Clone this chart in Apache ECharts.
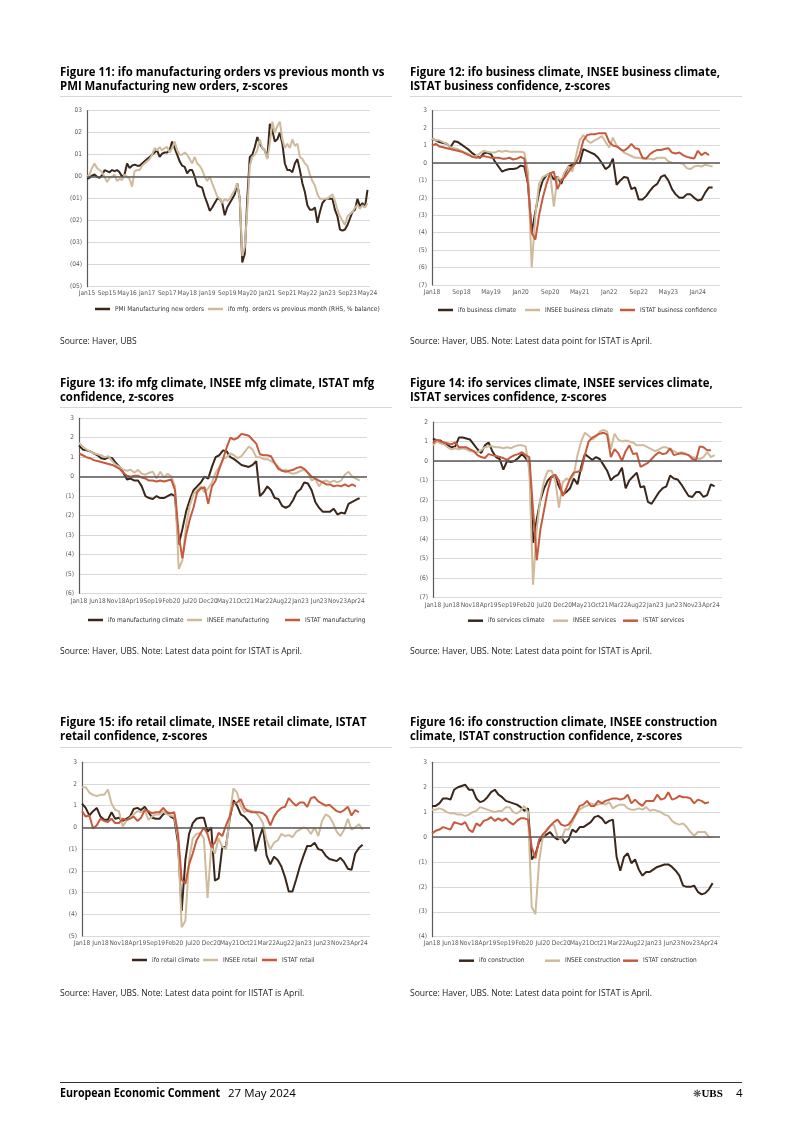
<!DOCTYPE html>
<html><head><meta charset="utf-8">
<script src="https://cdn.jsdelivr.net/npm/echarts/dist/echarts.min.js"></script>
<style>
body{margin:0;background:#fff;width:802px;height:1134px;position:relative;overflow:hidden;font-family:'Open Sans',sans-serif;color:#000;}
#chart{position:absolute;left:0;top:0;width:802px;height:1134px;}
.t{position:absolute;white-space:nowrap;transform-origin:0 50%;}
.title{font-weight:700;font-size:12.8px;line-height:15px;}
.src{font-size:9px;line-height:11px;color:#222;}
.rule{position:absolute;height:1px;background:#d6d6d6;}
.foot{font-size:11.5px;line-height:14px;}
</style></head><body>
<div id="chart"></div>

<div class="t title" id="t11a" style="left:60px;top:63.5px">Figure 11: ifo manufacturing orders vs previous month vs</div>
<div class="t title" style="left:60px;top:78px">PMI Manufacturing new orders, z-scores</div>
<div class="rule" style="left:60px;top:96px;width:332px"></div>
<div class="t title" style="left:410px;top:63.5px">Figure 12: ifo business climate, INSEE business climate,</div>
<div class="t title" style="left:410px;top:78px">ISTAT business confidence, z-scores</div>
<div class="rule" style="left:410px;top:96px;width:332px"></div>

<div class="t title" style="left:60px;top:374.5px">Figure 13: ifo mfg climate, INSEE mfg climate, ISTAT mfg</div>
<div class="t title" style="left:60px;top:389px">confidence, z-scores</div>
<div class="rule" style="left:60px;top:407px;width:332px"></div>
<div class="t title" style="left:410px;top:374.5px">Figure 14: ifo services climate, INSEE services climate,</div>
<div class="t title" style="left:410px;top:389px">ISTAT services confidence, z-scores</div>
<div class="rule" style="left:410px;top:407px;width:332px"></div>

<div class="t title" style="left:60px;top:713.5px">Figure 15: ifo retail climate, INSEE retail climate, ISTAT</div>
<div class="t title" style="left:60px;top:728px">retail confidence, z-scores</div>
<div class="rule" style="left:60px;top:747px;width:332px"></div>
<div class="t title" style="left:410px;top:713.5px">Figure 16: ifo construction climate, INSEE construction</div>
<div class="t title" style="left:410px;top:728px">climate, ISTAT construction confidence, z-scores</div>
<div class="rule" style="left:410px;top:747px;width:332px"></div>

<div class="t src" style="left:60px;top:334.5px">Source: Haver, UBS</div>
<div class="t src" id="s12" style="left:410px;top:334.5px">Source: Haver, UBS. Note: Latest data point for ISTAT is April.</div>
<div class="t src" style="left:60px;top:644.5px">Source: Haver, UBS. Note: Latest data point for ISTAT is April.</div>
<div class="t src" style="left:410px;top:644.5px">Source: Haver, UBS. Note: Latest data point for ISTAT is April.</div>
<div class="t src" style="left:60px;top:986.5px">Source: Haver, UBS. Note: Latest data point for IISTAT is April.</div>
<div class="t src" style="left:410px;top:986.5px">Source: Haver, UBS. Note: Latest data point for ISTAT is April.</div>

<div class="rule" style="left:60px;top:1082px;width:682px;background:#333"></div>
<div class="t foot" id="f1" style="left:60px;top:1086px;font-weight:700">European Economic Comment</div>
<div class="t foot" id="f2" style="left:228px;top:1086px">27 May 2024</div>
<div class="t foot" style="left:693px;top:1086px;font-family:'Liberation Serif',serif;font-weight:700;font-size:11px"><span style="font-family:'DejaVu Sans';font-weight:400;font-size:10px;color:#333">❋</span>UBS</div>
<div class="t foot" style="left:736px;top:1086px">4</div>

<script>
// ---------- categories ----------
const MON = ['Jan','Feb','Mar','Apr','May','Jun','Jul','Aug','Sep','Oct','Nov','Dec'];
function monthCats(y0, count){const a=[];for(let i=0;i<count;i++){a.push(MON[i%12]+String((y0+Math.floor(i/12))%100).padStart(2,'0'));}return a;}
const cats15 = monthCats(2015, 114); // Jan15 .. Jun24
const cats18 = monthCats(2018, 79);  // Jan18 .. Jul24

// ---------- Figure 11 (Jan15..May24) ----------
const pmi11 = [-0.1,-0.05,0.05,0.1,0.0,-0.05,0.05,0.3,0.25,0.2,
 0.3,0.25,0.3,0.2,0.0,0.1,
 0.6,0.4,0.5,0.55,0.5,0.5,0.6,0.7,0.8,0.9,
 1.0,1.1,1.2,0.9,1.05,1.1,1.1,1.2,1.6,1.3,
 1.0,0.7,0.5,0.45,0.15,0.3,0.3,0.0,-0.4,-0.45,
 -0.5,-0.9,-1.2,-1.55,-1.4,-1.2,-1.0,-1.0,-1.2,-1.75,
 -1.4,-1.2,-1.0,-0.8,-0.3,-1.0,-3.9,-3.5,-1.0,0.9,
 1.0,1.35,1.8,1.5,1.3,1.2,0.85,2.4,2.1,1.6,
 1.7,2.0,1.5,0.6,0.3,0.3,0.2,0.6,0.8,0.3,
 -0.3,-0.7,-1.3,-1.5,-1.5,-1.4,-2.1,-1.6,-1.2,-1.05,
 -1.0,-1.0,-1.0,-1.5,-1.8,-2.4,-2.45,-2.4,-2.2,-1.9,
 -1.6,-1.5,-1.0,-1.35,-1.2,-1.4,-0.6];
const ifo11 = [0.0,0.1,0.4,0.6,0.4,0.3,0.2,0.0,-0.25,-0.05,
 0.0,0.1,-0.2,-0.1,-0.15,0.1,0.0,-0.1,-0.45,0.25,
 0.3,0.3,0.5,0.6,0.7,0.8,1.0,1.3,1.2,1.35,
 1.2,1.3,1.35,1.1,1.3,1.6,1.2,1.0,1.0,1.1,
 1.0,0.8,0.6,0.9,0.6,0.5,0.3,0.0,-0.2,0.0,
 -0.3,-0.6,-0.9,-1.0,-1.2,-1.0,-1.1,-1.0,-0.8,-0.6,
 -0.3,-1.0,-3.6,-3.2,-1.5,0.5,0.9,1.0,1.2,1.7,
 1.3,1.2,0.8,1.5,2.5,2.0,2.3,2.5,1.7,1.3,
 1.5,1.3,1.7,1.4,1.5,0.9,0.8,0.6,0.5,0.1,
 -0.2,-0.4,-0.8,-1.0,-1.0,-1.0,-1.0,-0.9,-0.8,-1.1,
 -1.5,-1.8,-2.0,-2.2,-1.8,-1.7,-1.6,-1.4,-1.3,-1.45,
 -1.3,-1.4,-1.2];

// ---------- Figure 12 (Jan18..) ----------
const ifo12 = [1.4,1.3,1.2,1.15,1.1,0.9,1.25,1.2,1.05,0.9,
 0.75,0.55,0.4,0.3,0.55,0.6,0.5,0.1,-0.2,-0.5,
 -0.4,-0.35,-0.35,-0.3,-0.15,-0.2,-1.2,-4.0,-2.8,-1.7,
 -1.0,-0.7,-0.6,-0.95,-0.8,-1.2,-0.6,-0.2,-0.1,0.0,
 0.0,0.8,0.7,0.6,0.5,0.3,0.0,-0.35,-0.2,0.25,
 -1.25,-1.0,-0.8,-0.85,-1.5,-1.4,-2.1,-2.1,-1.9,-1.6,
 -1.35,-1.2,-0.8,-0.7,-1.0,-1.5,-1.8,-2.0,-2.0,-1.8,
 -1.8,-2.0,-2.15,-2.1,-1.7,-1.4,-1.4];
const insee12 = [1.4,1.3,1.3,1.2,1.1,0.9,0.85,0.8,0.7,0.6,
 0.5,0.35,0.4,0.55,0.7,0.65,0.6,0.6,0.7,0.65,
 0.7,0.65,0.65,0.65,0.65,0.6,-0.5,-6.0,-3.0,-1.2,
 -0.8,-0.7,-0.6,-2.5,-0.8,-1.0,-0.5,-0.2,-0.5,0.4,
 1.3,1.6,1.3,1.15,1.3,1.4,1.55,1.2,0.9,1.45,
 1.0,0.8,0.6,0.5,0.4,0.3,0.3,0.25,0.25,0.25,
 0.2,0.3,0.3,0.3,0.1,0.0,0.0,0.0,-0.05,-0.3,
 -0.35,-0.2,-0.15,-0.2,-0.1,-0.15,-0.2];
const istat12 = [1.0,1.1,0.95,0.9,0.85,0.8,0.75,0.7,0.65,0.55,
 0.45,0.35,0.3,0.35,0.4,0.35,0.3,0.3,0.3,0.25,
 0.25,0.3,0.2,0.25,0.35,0.25,-1.2,-4.0,-4.4,-3.0,
 -2.0,-1.2,-0.6,-0.5,-1.5,-1.0,-0.8,-0.5,-0.2,0.0,
 0.5,1.3,1.6,1.65,1.65,1.7,1.7,1.7,1.2,1.0,
 0.95,0.8,0.7,0.85,1.1,0.85,0.8,0.3,0.25,0.5,
 0.65,0.75,0.75,0.8,0.85,0.6,0.55,0.6,0.45,0.35,
 0.3,0.25,0.7,0.45,0.6,0.45];

// ---------- Figure 13 ----------
const ifo13 = [1.6,1.4,1.35,1.3,1.2,1.1,0.95,0.9,1.0,0.95,
 0.7,0.5,0.2,-0.15,-0.1,-0.2,-0.2,-0.5,-1.0,-1.1,
 -1.15,-1.0,-1.1,-1.1,-1.0,-0.9,-1.0,-3.5,-2.7,-1.8,
 -1.2,-0.7,-0.5,-0.3,0.0,-0.1,0.5,1.0,1.1,1.35,
 1.3,1.0,0.9,0.75,0.6,0.55,0.5,0.6,0.8,-1.0,
 -0.8,-0.5,-0.7,-1.1,-1.15,-1.5,-1.6,-1.5,-1.2,-0.8,
 -0.65,-0.3,-0.35,-0.7,-1.3,-1.6,-1.8,-1.8,-1.8,-1.65,
 -1.95,-1.85,-1.9,-1.4,-1.3,-1.2,-1.1];
const insee13 = [1.75,1.55,1.4,1.3,1.2,1.15,1.1,1.0,1.05,0.8,
 0.6,0.5,0.35,0.3,0.35,0.2,0.35,0.15,0.1,0.2,
 0.25,-0.1,0.25,-0.05,0.15,0.0,-0.5,-4.75,-4.3,-2.5,
 -1.5,-0.9,-0.7,-0.5,-0.8,-0.6,-0.3,0.2,0.5,0.9,
 1.0,1.2,1.1,0.95,1.05,1.3,1.55,1.4,1.0,1.0,
 0.9,0.9,0.8,0.7,0.5,0.3,0.35,0.2,0.15,0.2,
 0.3,0.35,0.2,-0.2,-0.1,-0.5,-0.25,-0.2,-0.3,-0.2,
 -0.3,-0.2,0.1,0.25,0.0,-0.1,-0.2];
const istat13 = [1.2,1.1,1.0,0.95,0.85,0.8,0.75,0.7,0.65,0.6,
 0.5,0.4,0.2,0.05,0.0,0.05,0.05,-0.05,-0.1,-0.2,
 -0.2,-0.25,-0.2,-0.25,-0.2,-0.15,-0.7,-3.0,-4.2,-3.0,
 -2.2,-1.6,-0.8,-0.6,-0.55,-1.4,-0.5,-0.2,0.4,0.9,
 1.5,2.0,1.9,2.0,2.2,2.15,2.1,1.9,1.7,1.15,
 1.1,1.1,1.05,0.7,0.4,0.3,0.25,0.3,0.35,0.45,
 0.5,0.4,0.2,0.0,-0.1,-0.2,-0.3,-0.4,-0.4,-0.5,
 -0.45,-0.5,-0.4,-0.5,-0.4,-0.5];

// ---------- Figure 14 ----------
const ifo14 = [1.15,1.05,1.05,0.9,0.8,0.7,0.75,1.2,1.2,1.15,
 1.1,0.85,0.6,0.4,0.8,0.95,0.5,0.2,0.1,-0.45,
 0.0,-0.05,0.0,0.15,0.35,0.15,-0.1,-4.2,-3.0,-2.0,
 -1.4,-1.0,-0.8,-0.85,-1.3,-1.7,-1.6,-1.4,-0.9,-1.2,
 -0.3,0.35,0.2,0.05,0.2,0.1,-0.2,-0.5,-1.0,-0.8,
 -0.7,-0.35,-1.4,-1.0,-0.8,-0.6,-1.35,-1.3,-2.1,-2.2,
 -1.9,-1.6,-1.4,-1.3,-0.75,-0.9,-0.95,-1.2,-1.5,-1.8,
 -1.85,-1.6,-1.6,-1.85,-1.75,-1.2,-1.3];
const insee14 = [0.8,1.0,0.9,0.85,0.7,0.6,0.65,0.6,0.65,0.6,
 0.5,0.5,0.45,0.55,0.7,0.75,0.75,0.7,0.7,0.65,
 0.7,0.65,0.75,0.8,0.8,0.75,-0.5,-6.35,-3.5,-1.9,
 -1.0,-0.5,-0.5,-1.0,-2.4,-1.1,-0.9,-1.0,-0.7,0.3,
 1.0,1.45,1.3,1.1,1.25,1.5,1.6,1.5,0.6,1.4,
 1.1,1.0,1.05,1.0,0.95,0.8,0.8,0.8,0.7,0.6,
 0.5,0.6,0.7,0.7,0.6,0.5,0.4,0.45,0.4,0.3,
 0.2,0.15,0.1,0.2,0.45,0.2,0.3];
const istat14 = [0.9,1.1,1.0,0.95,0.9,0.85,0.95,0.7,0.7,0.7,
 0.6,0.5,0.3,0.2,0.15,0.35,0.3,0.25,0.2,0.15,
 0.05,0.2,0.3,0.35,0.45,0.3,0.2,-2.5,-5.1,-3.5,
 -2.5,-1.5,-0.8,-0.7,-1.0,-1.8,-1.4,-0.9,-0.6,-0.55,
 -0.5,0.3,1.0,1.2,1.3,1.4,1.45,1.35,0.2,0.6,
 0.4,0.0,0.5,0.8,0.35,0.4,-0.3,-0.2,-0.1,0.1,
 0.3,0.45,0.35,0.4,0.65,0.3,0.35,0.4,0.35,0.3,
 0.1,0.05,0.75,0.7,0.55,0.55];

// ---------- Figure 15 ----------
const ifo15 = [1.1,0.9,0.55,0.75,0.9,0.5,0.35,0.35,0.7,0.4,
 0.45,0.3,0.4,0.5,0.85,0.9,0.8,0.95,0.7,0.45,
 0.4,0.4,0.6,0.7,0.5,0.4,-0.7,-3.85,-1.5,-0.3,
 0.2,0.4,0.45,0.45,-0.2,0.0,-2.45,-2.35,-0.9,-0.9,
 0.4,1.25,1.0,0.6,0.5,0.3,0.1,-1.1,-0.5,0.0,
 -1.3,-1.7,-1.35,-1.5,-1.8,-2.3,-2.95,-2.95,-2.4,-1.8,
 -1.3,-0.85,-0.85,-0.7,-1.0,-1.05,-1.3,-1.45,-1.5,-1.55,
 -1.4,-1.6,-1.9,-1.95,-1.2,-0.95,-0.8];
const insee15 = [1.85,1.85,1.6,1.5,1.45,1.5,1.5,1.75,1.1,0.8,
 0.75,0.05,0.3,0.45,0.6,0.75,0.7,0.8,0.35,0.5,
 0.6,0.6,0.75,0.6,0.55,0.5,-0.5,-4.6,-4.3,-1.5,
 -0.5,-0.3,-0.25,-0.5,-3.25,-0.9,-1.2,-0.5,-0.9,-1.0,
 0.5,1.8,1.6,1.0,0.7,0.8,0.75,0.7,0.5,0.2,
 -0.6,-1.0,-0.7,-0.6,-0.3,-0.4,-0.35,-0.45,-0.2,-0.1,
 0.0,-0.05,-0.3,0.0,-0.4,0.3,0.6,0.5,0.2,-0.2,
 -0.4,-0.1,0.4,-0.1,0.0,0.15,-0.1];
const istat15 = [0.75,0.5,0.55,-0.05,0.1,0.4,0.3,0.25,0.4,0.2,
 0.2,0.4,0.35,0.4,0.5,0.3,0.45,0.8,0.75,0.65,
 0.7,0.7,0.9,0.7,0.65,0.7,-0.3,-2.4,-2.6,-1.7,
 -1.2,-0.6,-0.3,0.0,-0.3,-0.9,-0.7,-0.25,-0.4,0.1,
 0.5,1.1,1.15,1.3,0.9,0.75,0.7,0.7,0.7,0.65,
 0.5,0.1,0.5,0.75,0.9,0.95,1.35,1.15,1.0,1.15,
 1.15,0.95,1.35,1.4,1.2,1.1,1.0,1.05,0.9,0.75,
 0.7,0.8,0.95,0.55,0.8,0.7];

// ---------- Figure 16 ----------
const ifo16 = [1.25,1.25,1.35,1.55,1.55,1.5,1.9,2.0,2.05,2.1,
 1.9,1.9,1.55,1.4,1.45,1.6,1.8,1.9,1.7,1.6,
 1.45,1.4,1.35,1.3,1.2,1.05,1.15,-0.9,-0.7,-0.2,
 0.0,0.1,0.2,0.0,-0.1,0.0,-0.25,-0.1,0.3,0.2,
 0.4,0.4,0.5,0.6,0.8,0.85,0.75,0.55,0.65,0.7,
 -0.8,-1.35,-0.8,-0.65,-1.05,-0.9,-1.3,-1.55,-1.4,-1.4,
 -1.3,-1.2,-1.15,-1.1,-1.1,-1.2,-1.35,-1.55,-1.95,-2.0,
 -2.0,-1.95,-2.2,-2.3,-2.25,-2.1,-1.85];
const insee16 = [1.1,1.1,1.15,1.1,1.0,0.95,0.95,0.9,0.9,0.85,
 0.9,1.0,1.05,1.2,1.15,1.1,1.05,1.0,1.05,1.05,
 1.2,1.2,1.0,0.95,1.05,1.25,1.0,-2.8,-3.1,-1.0,
 0.0,0.3,0.45,0.5,0.0,-0.1,0.3,0.3,0.6,0.9,
 1.1,1.2,1.25,1.35,1.3,1.3,1.35,1.3,1.4,1.15,
 1.25,1.3,1.3,1.15,1.1,1.1,1.15,1.1,1.2,1.05,
 1.1,1.05,1.0,0.9,0.85,0.65,0.55,0.5,0.55,0.4,
 0.2,0.05,0.2,0.2,0.2,0.0,0.0];
const istat16 = [0.15,0.25,0.3,0.4,0.35,0.3,0.6,0.55,0.5,0.6,
 0.3,0.2,0.55,0.45,0.65,0.7,0.8,0.65,0.75,0.65,
 0.75,0.6,0.5,0.65,0.75,0.75,0.7,-0.4,-0.85,-0.1,
 0.1,0.25,0.45,0.6,0.7,0.5,0.45,0.5,0.7,0.95,
 1.25,1.3,1.45,1.25,1.25,1.45,1.35,1.45,1.5,1.55,
 1.55,1.5,1.55,1.7,1.35,1.5,1.35,1.25,1.45,1.45,
 1.45,1.7,1.5,1.55,1.8,1.5,1.55,1.65,1.6,1.6,
 1.55,1.35,1.5,1.45,1.35,1.4];

// ---------- styling ----------
const DARK = '#3a271b', TAN = '#cfbb9b', RED = '#c75a3d';
const AXC = '#595959', GRIDC = '#d9d9d9';
const FONT = "'Liberation Sans Narrow','DejaVu Sans Condensed',Roboto,sans-serif";
const fmt2 = v => v < 0 ? '(' + String(-v).padStart(2,'0') + ')' : String(v).padStart(2,'0');
const fmt1 = v => v < 0 ? '(' + (-v) + ')' : String(v);

const charts = [
 {grid:{left:87,top:110.7,width:283,height:176}, cats:cats15, interval:7, min:-5, max:3, fmt:fmt2, xm:3, ly:309,
  series:[['PMI Manufacturing new orders',pmi11,DARK,95],['ifo mfg. orders vs previous month (RHS, % balance)',ifo11,TAN,208]]},
 {grid:{left:432,top:110.7,width:288,height:174.3}, cats:cats18, interval:7, min:-7, max:3, fmt:fmt1, xm:4, ly:310,
  series:[['ifo business climate',ifo12,DARK,438],['INSEE business climate',insee12,TAN,525],['ISTAT business confidence',istat12,RED,620]]},
 {grid:{left:79,top:418.3,width:288,height:175}, cats:cats18, interval:4, min:-6, max:3, fmt:fmt1, xm:5, ly:620,
  series:[['ifo manufacturing climate',ifo13,DARK,88],['INSEE manufacturing',insee13,TAN,187],['ISTAT manufacturing',istat13,RED,285]]},
 {grid:{left:433,top:422,width:289,height:175.3}, cats:cats18, interval:4, min:-7, max:2, fmt:fmt1, xm:4.5, ly:620.7,
  series:[['ifo services climate',ifo14,DARK,468],['INSEE services',insee14,TAN,553],['ISTAT services',istat14,RED,623]]},
 {grid:{left:82,top:762.3,width:288,height:173.7}, cats:cats18, interval:4, min:-5, max:3, fmt:fmt1, xm:3.5, ly:960,
  series:[['ifo retail climate',ifo15,DARK,132],['INSEE retail',insee15,TAN,203],['ISTAT retail',istat15,RED,262]]},
 {grid:{left:432,top:762.3,width:288,height:174.4}, cats:cats18, interval:4, min:-4, max:3, fmt:fmt1, xm:3, ly:960.7,
  series:[['ifo construction',ifo16,DARK,459],['INSEE construction',insee16,TAN,545],['ISTAT construction',istat16,RED,623]]}
];

const option = {animation:false, grid:[], xAxis:[], yAxis:[], series:[], legend:[]};
charts.forEach((c,i)=>{
  option.grid.push(Object.assign({containLabel:false}, c.grid));
  option.xAxis.push({type:'category', gridIndex:i, data:c.cats, boundaryGap:false,
    axisLine:{show:false}, axisTick:{show:false}, splitLine:{show:false},
    axisLabel:{interval:c.interval, fontSize:6.5, color:AXC, margin:c.xm, fontFamily:FONT, hideOverlap:false}});
  option.yAxis.push({type:'value', gridIndex:i, min:c.min, max:c.max, interval:1,
    axisLine:{show:true, lineStyle:{color:AXC, width:1.2}}, axisTick:{show:false},
    splitLine:{show:true, lineStyle:{color:GRIDC, width:1}},
    axisLabel:{formatter:c.fmt, fontSize:6.5, color:AXC, margin:5, fontFamily:FONT}});
  option.series.push({type:'line', name:'zero'+i, xAxisIndex:i, yAxisIndex:i, data:[], z:1, silent:true,
    markLine:{silent:true, symbol:['none','none'], label:{show:false}, animation:false,
      lineStyle:{color:AXC, width:1.5, type:'solid'}, data:[{yAxis:0}]}});
  c.series.forEach(s=>{
    option.series.push({type:'line', name:s[0], xAxisIndex:i, yAxisIndex:i, data:s[1],
      showSymbol:false, symbol:'none', z:2, lineStyle:{color:s[2], width:2}, itemStyle:{color:s[2]}});
    option.legend.push({data:[s[0]], left:s[3], top:c.ly-4, padding:0, icon:'rect', itemWidth:15, itemHeight:2.5,
      itemGap:0, selectedMode:false, textStyle:{fontSize:6.5, color:'#333', fontFamily:FONT, lineHeight:8}});
  });
});

const chart = echarts.init(document.getElementById('chart'), null, {renderer:'canvas'});
chart.setOption(option);

// fit condensed text widths
function scaleAll(sel, refEl, target){
  const s = target / refEl.offsetWidth;
  document.querySelectorAll(sel).forEach(e=>{e.style.transform='scaleX('+s+')';});
}
scaleAll('.title', document.getElementById('t11a'), 324);
scaleAll('.src', document.getElementById('s12'), 242);
const f1=document.getElementById('f1'); f1.style.transform='scaleX('+(160/f1.offsetWidth)+')';
const f2=document.getElementById('f2'); f2.style.transform='scaleX('+(68/f2.offsetWidth)+')';
</script>
</body></html>
